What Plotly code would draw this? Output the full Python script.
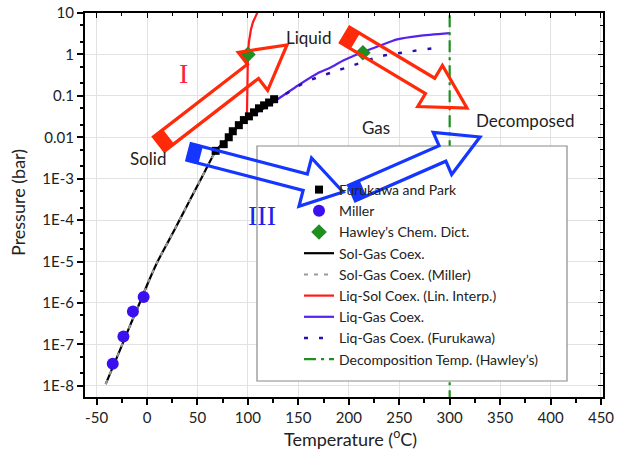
import math
import plotly.graph_objects as go

# ---------------- data ----------------
furukawa_T = [68, 76, 81, 85, 91, 96, 101, 106, 111, 116, 121, 126]
furukawa_P = [0.0047, 0.0068, 0.010, 0.014, 0.0196, 0.026, 0.032, 0.040, 0.050, 0.059, 0.069, 0.083]

miller_T = [-3.4, -14, -23.4, -34]
miller_P = [1.4e-6, 6.2e-7, 1.55e-7, 3.4e-8]

hawley_T = [100, 214]
hawley_P = [1.0, 1.1]

solgas_T = [-41, -33, -24.5, -16, -7.3, 1.3, 10, 21.5, 32.2, 42.9, 53.6, 64.3, 68, 80, 90, 99]
solgas_P = [1.1e-8, 3.2e-8, 1e-7, 3.2e-7, 1e-6, 3.2e-6, 9.5e-6, 3.2e-5, 1e-4, 3.2e-4,
            1e-3, 3.2e-3, 4.7e-3, 9.5e-3, 0.018, 0.029]

millerline_T = [-41, -33, -24.5, -16, -7.3, 1.3, 10, 21.5, 32.2, 42.9, 53.6, 64.3, 72]
millerline_P = [1.1e-8, 3.2e-8, 1e-7, 3.2e-7, 1e-6, 3.2e-6, 9.5e-6, 3.2e-5, 1e-4, 3.2e-4,
                1e-3, 3.2e-3, 5.8e-3]

liqsol_T = [99, 99.2, 99.6, 100, 101, 103, 105, 107, 109, 110]
liqsol_P = [0.029, 0.3, 0.7, 1.0, 2.0, 4.0, 6.0, 8.0, 10.0, 11.0]

liqgas_T = [99, 110, 125, 150, 170, 181, 195, 214, 230, 248, 270, 300]
liqgas_P = [0.029, 0.042, 0.07, 0.18, 0.36, 0.47, 0.72, 1.15, 1.6, 2.3, 2.8, 3.25]

liqgasF_T = [100, 125, 156, 171, 186, 201, 231, 260, 290]
liqgasF_P = [0.029, 0.07, 0.21, 0.29, 0.39, 0.51, 0.9, 1.17, 1.47]

decomp_T = [300, 300]
decomp_P = [1e-9, 10]

x_ticks = [-50, 0, 50, 100, 150, 200, 250, 300, 350, 400, 450]
x_ticktext = ["-50", "0", "50", "100", "150", "200", "250", "300", "350", "400", "450"]
y_ticks = [10, 1, 0.1, 0.01, 1e-3, 1e-4, 1e-5, 1e-6, 1e-7, 1e-8]
y_ticktext = ["10", "1", "0.1", "0.01", "1E-3", "1E-4", "1E-5", "1E-6", "1E-7", "1E-8"]

# ---------------- layout geometry (pixels) ----------------
W, H = 617, 458
ML, MR, MT, MB = 85, 14, 13, 61
PL, PR, PT, PB = ML, W - MR, MT, H - MB

def paper(px, py):
    return ((px - PL) / (PR - PL), (PB - py) / (PB - PT))

FONT = "Lato"
TXT = "#222222"

fig = go.Figure()

fig.add_trace(go.Scatter(x=solgas_T, y=solgas_P, mode="lines", name="Sol-Gas Coex.",
                         line=dict(color="black", width=2.2, shape="spline", smoothing=0.6), legendrank=4))
fig.add_trace(go.Scatter(x=millerline_T, y=millerline_P, mode="lines", name="Sol-Gas Coex. (Miller)",
                         line=dict(color="#9a9a9a", width=2, dash="4px,6px", shape="spline", smoothing=0.6),
                         legendrank=5))
fig.add_trace(go.Scatter(x=liqsol_T, y=liqsol_P, mode="lines", name="Liq-Sol Coex. (Lin. Interp.)",
                         line=dict(color="#ff1a1a", width=2.2), legendrank=6))
fig.add_trace(go.Scatter(x=liqgas_T, y=liqgas_P, mode="lines", name="Liq-Gas Coex.",
                         line=dict(color="#5522ee", width=2.2, shape="spline", smoothing=0.6), legendrank=7))
fig.add_trace(go.Scatter(x=liqgasF_T, y=liqgasF_P, mode="lines", name="Liq-Gas Coex. (Furukawa)",
                         line=dict(color="#2a0fb0", width=2.5, dash="4px,11px", shape="spline", smoothing=0.6),
                         legendrank=8))
fig.add_trace(go.Scatter(x=decomp_T, y=decomp_P, mode="lines", name="Decomposition Temp. (Hawley\u2019s)",
                         line=dict(color="#1f8f1f", width=2.2, dash="12px,5px,3px,5px"), legendrank=9))
fig.add_trace(go.Scatter(x=furukawa_T, y=furukawa_P, mode="markers", name="Furukawa and Park",
                         marker=dict(symbol="square", color="black", size=8), legendrank=1))
fig.add_trace(go.Scatter(x=miller_T, y=miller_P, mode="markers", name="Miller",
                         marker=dict(symbol="circle", color="#3a10ee", size=12), legendrank=2))
fig.add_trace(go.Scatter(x=hawley_T, y=hawley_P, mode="markers", name="Hawley\u2019s Chem. Dict.",
                         marker=dict(symbol="diamond", color="#1f8f1f", size=12), legendrank=3))

# dummy trace for the mirrored (top/right) axes
fig.add_trace(go.Scatter(x=[0], y=[1], xaxis="x2", yaxis="y2", showlegend=False, mode="markers",
                         marker=dict(size=1, opacity=0), hoverinfo="skip"))

XR = [-61.5, 452]
YR = [-8.27, 1.0]
TICKSIZE = 15

fig.update_layout(
    width=W, height=H,
    margin=dict(l=ML, r=MR, t=MT, b=MB, autoexpand=False),
    paper_bgcolor="white", plot_bgcolor="white",
    font=dict(family=FONT, color=TXT, size=14),
    xaxis=dict(range=XR, tickvals=x_ticks, ticktext=x_ticktext, ticks="outside", ticklen=6,
               tickwidth=1.5, tickcolor="black", showline=True, linecolor="black", linewidth=2,
               showgrid=True, gridcolor="#e2e2e2", gridwidth=1, zeroline=False, automargin=False,
               tickfont=dict(size=TICKSIZE, color=TXT),
               minor=dict(dtick=25, ticks="outside", ticklen=4, tickcolor="black", showgrid=False)),
    yaxis=dict(type="log", range=YR, tickvals=y_ticks, ticktext=y_ticktext, ticks="outside", ticklen=6,
               tickwidth=1.5, tickcolor="black", showline=True, linecolor="black", linewidth=2,
               showgrid=True, gridcolor="#e2e2e2", gridwidth=1, zeroline=False, automargin=False,
               tickfont=dict(size=TICKSIZE, color=TXT),
               minor=dict(ticks="outside", ticklen=3, tickcolor="black", showgrid=False)),
    xaxis2=dict(overlaying="x", side="top", range=XR, tickvals=x_ticks, ticks="inside", ticklen=5,
                tickcolor="black", showticklabels=False, showline=True, linecolor="black",
                linewidth=1.5, showgrid=False, zeroline=False, anchor="y2", automargin=False,
                minor=dict(dtick=25, ticks="inside", ticklen=3, tickcolor="black", showgrid=False)),
    yaxis2=dict(overlaying="y", side="right", type="log", range=YR, tickvals=y_ticks, ticks="inside",
                ticklen=5, tickcolor="black", showticklabels=False, showline=True, linecolor="black",
                linewidth=1.5, showgrid=False, zeroline=False, anchor="x2", automargin=False,
                minor=dict(ticks="inside", ticklen=3, tickcolor="black", showgrid=False)),
    showlegend=True,
    legend=dict(x=paper(299, 0)[0], y=paper(0, 174)[1], xanchor="left", yanchor="top",
                bgcolor="rgba(0,0,0,0)", borderwidth=0, font=dict(size=14, color=TXT),
                tracegroupgap=0, itemwidth=30),
)

shapes = []
# legend box
x0, y0 = paper(257, 146)
x1, y1 = paper(567, 381)
shapes.append(dict(type="rect", xref="paper", yref="paper", x0=x0, y0=y1, x1=x1, y1=y0,
                   fillcolor="white", line=dict(color="#8a8a8a", width=1.2), layer="above"))

def arrow(tail, tip, sw, hw, hl, bl, color):
    dx, dy = tip[0] - tail[0], tip[1] - tail[1]
    L = math.hypot(dx, dy)
    d = (dx / L, dy / L)
    n = (-d[1], d[0])
    def pt(a, b):
        return (tail[0] + d[0] * a + n[0] * b, tail[1] + d[1] * a + n[1] * b)
    outline = [pt(0, sw / 2), pt(L - hl, sw / 2), pt(L - hl, hw / 2), pt(L, 0),
               pt(L - hl, -hw / 2), pt(L - hl, -sw / 2), pt(0, -sw / 2)]
    block = [pt(0, sw / 2), pt(bl, sw / 2), pt(bl, -sw / 2), pt(0, -sw / 2)]
    def path(pts):
        s = ""
        for i, (px, py) in enumerate(pts):
            X, Y = paper(px, py)
            s += ("M" if i == 0 else "L") + f"{X:.5f},{Y:.5f} "
        return s + "Z"
    return [
        dict(type="path", xref="paper", yref="paper", path=path(outline),
             line=dict(color=color, width=3.2), fillcolor="rgba(0,0,0,0)", layer="above"),
        dict(type="path", xref="paper", yref="paper", path=path(block),
             line=dict(color=color, width=2), fillcolor=color, layer="above"),
    ]

RED = "#ff2a0a"
BLUE = "#1436ff"
shapes += arrow((159, 144), (287, 45), 18, 48, 43, 11, RED)
shapes += arrow((345, 35), (467, 108), 18, 48, 43, 11, RED)
shapes += arrow((189, 152), (343, 192), 17, 50, 39, 11, BLUE)
shapes += arrow((352, 193), (480, 137), 17, 46, 41, 11, BLUE)
fig.update_layout(shapes=shapes)

def label(text, px, py, size=17, color=TXT, family=FONT, angle=0):
    X, Y = paper(px, py)
    return dict(text=text, x=X, y=Y, xref="paper", yref="paper", showarrow=False, textangle=angle,
                xanchor="center", yanchor="middle", font=dict(size=size, color=color, family=family))

fig.update_layout(annotations=[
    label("Liquid", 308, 37),
    label("Gas", 376, 127),
    label("Solid", 148, 158),
    label("Decomposed", 525, 120),
    label("I", 183, 73, size=28, color="#ff2040", family="Liberation Serif"),
    label("III", 262, 215, size=28, color="#2020ee", family="Liberation Serif"),
    label("Temperature (<sup>o</sup>C)", 350, 438, size=18),
    label("Pressure (bar)", 18, 203, size=18, angle=-90),
])

fig.write_html("out.html")
